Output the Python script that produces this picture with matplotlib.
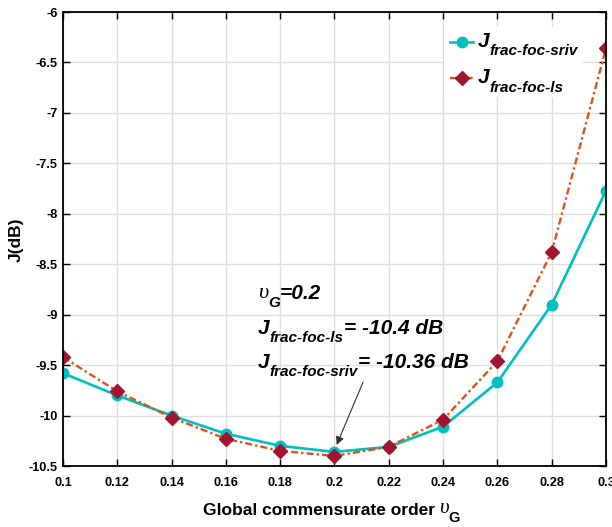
import numpy as np
import matplotlib.pyplot as plt

plt.rcParams['font.family'] = ['Liberation Sans', 'DejaVu Sans']
plt.rcParams['mathtext.fontset'] = 'custom'
plt.rcParams['mathtext.it'] = 'Liberation Sans:bold:italic'
plt.rcParams['mathtext.rm'] = 'Liberation Sans:bold:italic'
plt.rcParams['mathtext.bf'] = 'Liberation Sans:bold'

order = [0.10, 0.12, 0.14, 0.16, 0.18, 0.20, 0.22, 0.24, 0.26, 0.28, 0.30]
J_sriv = [-9.58, -9.80, -10.00, -10.18, -10.30, -10.36, -10.31, -10.11, -9.67, -8.90, -7.77]
J_ls = [-9.42, -9.76, -10.02, -10.23, -10.35, -10.40, -10.31, -10.04, -9.46, -8.38, -6.36]
xlabels = ['0.1', '0.12', '0.14', '0.16', '0.18', '0.2', '0.22', '0.24', '0.26', '0.28', '0.3']
ylabels = ['-10.5', '-10', '-9.5', '-9', '-8.5', '-8', '-7.5', '-7', '-6.5', '-6']
subs = ['frac-foc-sriv', 'frac-foc-ls']

h = '\u2010'  # plain hyphen so mathtext does not turn it into a minus
BI = dict(fontweight='bold', style='italic', color='black')
UPS = dict(family='Liberation Serif', style='italic', fontweight='normal', color='black')

fig = plt.figure(figsize=(6.12, 5.27), dpi=100)
ax = fig.add_axes([0.1029, 0.1157, 0.8873, 0.8615])

ax.plot(order, J_sriv, '-o', color='#00BFBF', lw=1.9, ms=7.5,
        mfc='#00BFBF', mec='#00BFBF', label=r'$J_{' + subs[0].replace('-', h) + '}$')
ax.plot(order, J_ls, color='#D95319', ls=(0, (3, 1.3, 1, 1.3)), lw=1.7,
        marker='D', ms=7.5, mfc='#A2142F', mec='#A2142F',
        label=r'$J_{' + subs[1].replace('-', h) + '}$')

ax.set_xlim(0.1, 0.3)
ax.set_ylim(-10.5, -6)
ax.set_xticks(np.linspace(0.1, 0.3, 11))
ax.set_xticklabels(xlabels)
ax.set_yticks(np.linspace(-10.5, -6, 10))
ax.set_yticklabels(ylabels)
ax.tick_params(direction='in', labelsize=9.2, width=1, length=5, top=True, right=True)
ax.tick_params(axis='x', pad=8)
ax.tick_params(axis='y', pad=4)
for lab in ax.get_xticklabels() + ax.get_yticklabels():
    lab.set_fontweight('bold')
ax.grid(color='#DEDEDE', lw=1)
ax.set_axisbelow(True)
for s in ax.spines.values():
    s.set_linewidth(1.3)

leg = ax.legend(loc='upper right', bbox_to_anchor=(0.958, 0.967), borderaxespad=0,
                fontsize=15, frameon=True, framealpha=1, edgecolor='none',
                fancybox=False, handlelength=1.1, handletextpad=0.25,
                labelspacing=0.72, borderpad=0.3)


def chain(xy, coords, parts, first_va='bottom', z=3):
    # parts: (text, size, props, dy in points) drawn one after another
    s, size, props, dy = parts[0]
    first = ax.annotate(s, xy=xy, xycoords=coords, xytext=(0, dy),
                        textcoords='offset points', fontsize=size, va=first_va,
                        annotation_clip=False, zorder=z, **props)
    prev = first
    for s, size, props, dy in parts[1:]:
        prev = ax.annotate(s, xy=(1, 0), xycoords=(prev, first), xytext=(0, dy),
                           textcoords='offset points', fontsize=size, va='bottom',
                           annotation_clip=False, zorder=z, **props)
    return first


# legend entries: J with a deeper subscript, drawn over the (hidden) legend text
for t, sub in zip(leg.get_texts(), subs):
    t.set_alpha(0)
    chain((0, 0.62), t, [('J', 15, dict(BI), 0), (sub, 11, dict(BI), -5.5)],
          first_va='center', z=6)

chain((0.1718, -8.88), 'data', [('\u03c5', 16, dict(UPS), 0), ('G', 11, dict(BI), -5),
                                ('=0.2', 15, dict(BI), 0)])
chain((0.1718, -9.23), 'data', [('J', 15, dict(BI), 0), ('frac-foc-ls', 11, dict(BI), -5),
                                ('= -10.4 dB', 15, dict(BI), 0)])
chain((0.1718, -9.57), 'data', [('J', 15, dict(BI), 0), ('frac-foc-sriv', 11, dict(BI), -5),
                                ('= -10.36 dB', 15, dict(BI), 0)])

ax.annotate('', xy=(0.2008, -10.29), xytext=(0.2105, -9.67),
            arrowprops=dict(arrowstyle='-|>', color='#303030', lw=0.8,
                            mutation_scale=12, shrinkA=0, shrinkB=0))

# axis labels
fig.text(16 / 612, 1 - 240 / 527, 'J(dB)', rotation=90, ha='center', va='center',
         fontsize=12.5, fontweight='bold')
xl = fig.text(203 / 612, 0.017, 'Global commensurate order', fontsize=12.5,
              fontweight='bold', va='bottom')
xu = ax.annotate('\u03c5', xy=(1, 0), xycoords=xl, xytext=(3, 0),
                 textcoords='offset points', fontsize=15, va='bottom',
                 annotation_clip=False, **UPS)
ax.annotate('G', xy=(1, 0), xycoords=(xu, xl), xytext=(0, -5),
            textcoords='offset points', fontsize=10.5, va='bottom',
            annotation_clip=False, fontweight='bold')

fig.savefig('out.png', dpi=100)
